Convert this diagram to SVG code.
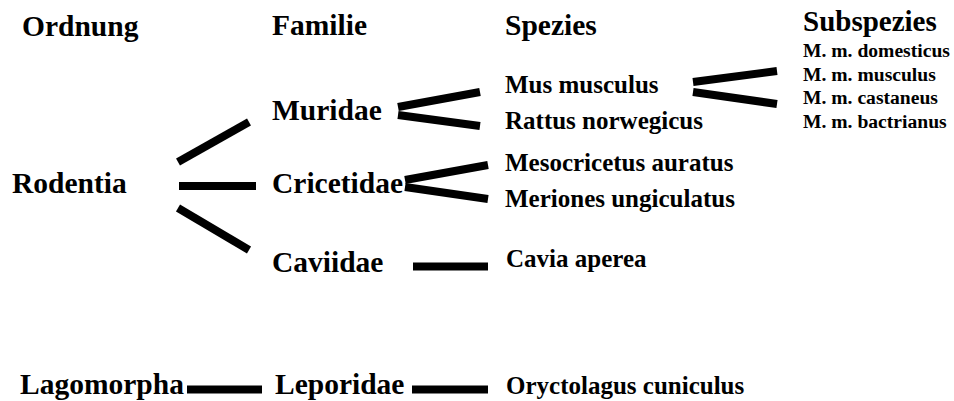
<svg xmlns="http://www.w3.org/2000/svg" width="954" height="401" viewBox="0 0 954 401">
<style>
text{font-family:"Liberation Serif","Times New Roman",serif;font-weight:bold;fill:#000}
.h{font-size:29.5px}
.f{font-size:29.5px}
.s{font-size:25px}
.ss{font-size:19.6px}
.c line{stroke:#000;stroke-width:8;stroke-linecap:butt}
</style>
<rect width="954" height="401" fill="#fff"/>
<g id="headers">
<text class="h" x="22" y="36">Ordnung</text>
<text class="h" x="272" y="35">Familie</text>
<text class="h" x="505" y="35">Spezies</text>
<text class="h" x="803" y="31" style="font-size:29px">Subspezies</text>
</g>
<g id="rodentia"><text class="f" x="12" y="193">Rodentia</text></g>
<g id="lagomorpha"><text class="f" x="20" y="394">Lagomorpha</text></g>
<g id="muridae"><text class="f" x="272" y="120">Muridae</text></g>
<g id="cricetidae"><text class="f" x="272" y="193">Cricetidae</text></g>
<g id="caviidae"><text class="f" x="272" y="272">Caviidae</text></g>
<g id="leporidae"><text class="f" x="275" y="394">Leporidae</text></g>
<g id="mus-musculus"><text class="s" x="505" y="93">Mus musculus</text></g>
<g id="rattus"><text class="s" x="505" y="129">Rattus norwegicus</text></g>
<g id="mesocricetus"><text class="s" x="505" y="171">Mesocricetus auratus</text></g>
<g id="meriones"><text class="s" x="505" y="207">Meriones ungiculatus</text></g>
<g id="cavia"><text class="s" x="506" y="267">Cavia aperea</text></g>
<g id="oryctolagus"><text class="s" x="506" y="394">Oryctolagus cuniculus</text></g>
<g id="subspezies">
<text class="ss" x="803" y="57">M. m. domesticus</text>
<text class="ss" x="803" y="80.5">M. m. musculus</text>
<text class="ss" x="803" y="104">M. m. castaneus</text>
<text class="ss" x="803" y="127.5">M. m. bactrianus</text>
</g>
<g id="connectors" class="c">
<line x1="178" y1="162" x2="249" y2="122"/>
<line x1="179" y1="186" x2="256" y2="186"/>
<line x1="178" y1="208" x2="249" y2="250"/>
<line x1="398" y1="107" x2="480" y2="92"/>
<line x1="398" y1="115" x2="480" y2="126"/>
<line x1="405" y1="180" x2="488" y2="165"/>
<line x1="405" y1="187" x2="488" y2="199"/>
<line x1="693" y1="82" x2="777" y2="71"/>
<line x1="693" y1="92" x2="777" y2="104"/>
<line x1="413" y1="266.5" x2="488" y2="266.5"/>
<line x1="187" y1="389.5" x2="262" y2="389.5"/>
<line x1="412" y1="389.5" x2="488" y2="389.5"/>
</g>
</svg>
